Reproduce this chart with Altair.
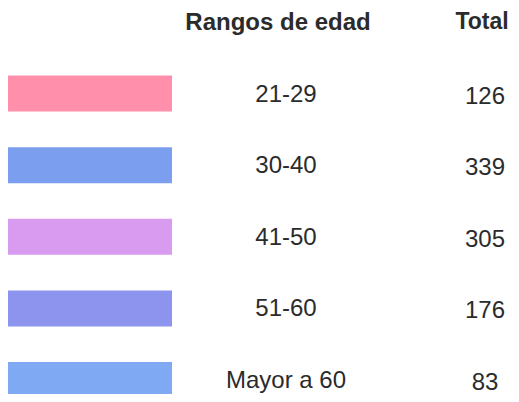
import altair as alt
import pandas as pd

rangos = ["21-29", "30-40", "41-50", "51-60", "Mayor a 60"]
totales = [126, 339, 305, 176, 83]
colores = ["#FF8FAB", "#7B9EEF", "#D99BEF", "#8C94EE", "#7FA9F2"]
encabezados = ["Rangos de edad", "Total"]

filas = ["header"] + rangos
df = pd.DataFrame({"row": rangos, "total": [str(t) for t in totales]})
hdr = pd.DataFrame({"row": ["header"], "h1": [encabezados[0]], "h2": [encabezados[1]]})

yscale = alt.Scale(type="point", domain=filas, padding=0.194)
Y = alt.Y("row:N", scale=yscale, axis=None)
FONT = "Liberation Sans"
TXT = "#2b2b2b"

swatch = alt.Chart(df).mark_bar(height=36).encode(
    y=Y,
    x=alt.value(0),
    x2=alt.value(164),
    color=alt.Color("row:N", scale=alt.Scale(domain=rangos, range=colores), legend=None),
)

labels = alt.Chart(df).mark_text(font=FONT, fontSize=24, color=TXT, baseline="middle", dy=1).encode(
    y=Y, x=alt.value(278), text="row:N"
)
vals = alt.Chart(df).mark_text(font=FONT, fontSize=24, color=TXT, baseline="middle", dy=3).encode(
    y=Y, x=alt.value(477), text="total:N"
)
h1 = alt.Chart(hdr).mark_text(font=FONT, fontSize=24, fontWeight="bold", color=TXT, baseline="middle", dy=1).encode(
    y=Y, x=alt.value(270), text="h1:N"
)
h2 = alt.Chart(hdr).mark_text(font=FONT, fontSize=23, fontWeight="bold", color=TXT, baseline="middle", dy=0).encode(
    y=Y, x=alt.value(474), text="h2:N"
)

chart = alt.layer(swatch, labels, vals, h1, h2).properties(
    width=503, height=386, padding=0, autosize=alt.AutoSizeParams(type="none"), background="white"
).configure_view(stroke=None)

chart.save("out.html", embed_options={"renderer": "svg", "actions": False})
